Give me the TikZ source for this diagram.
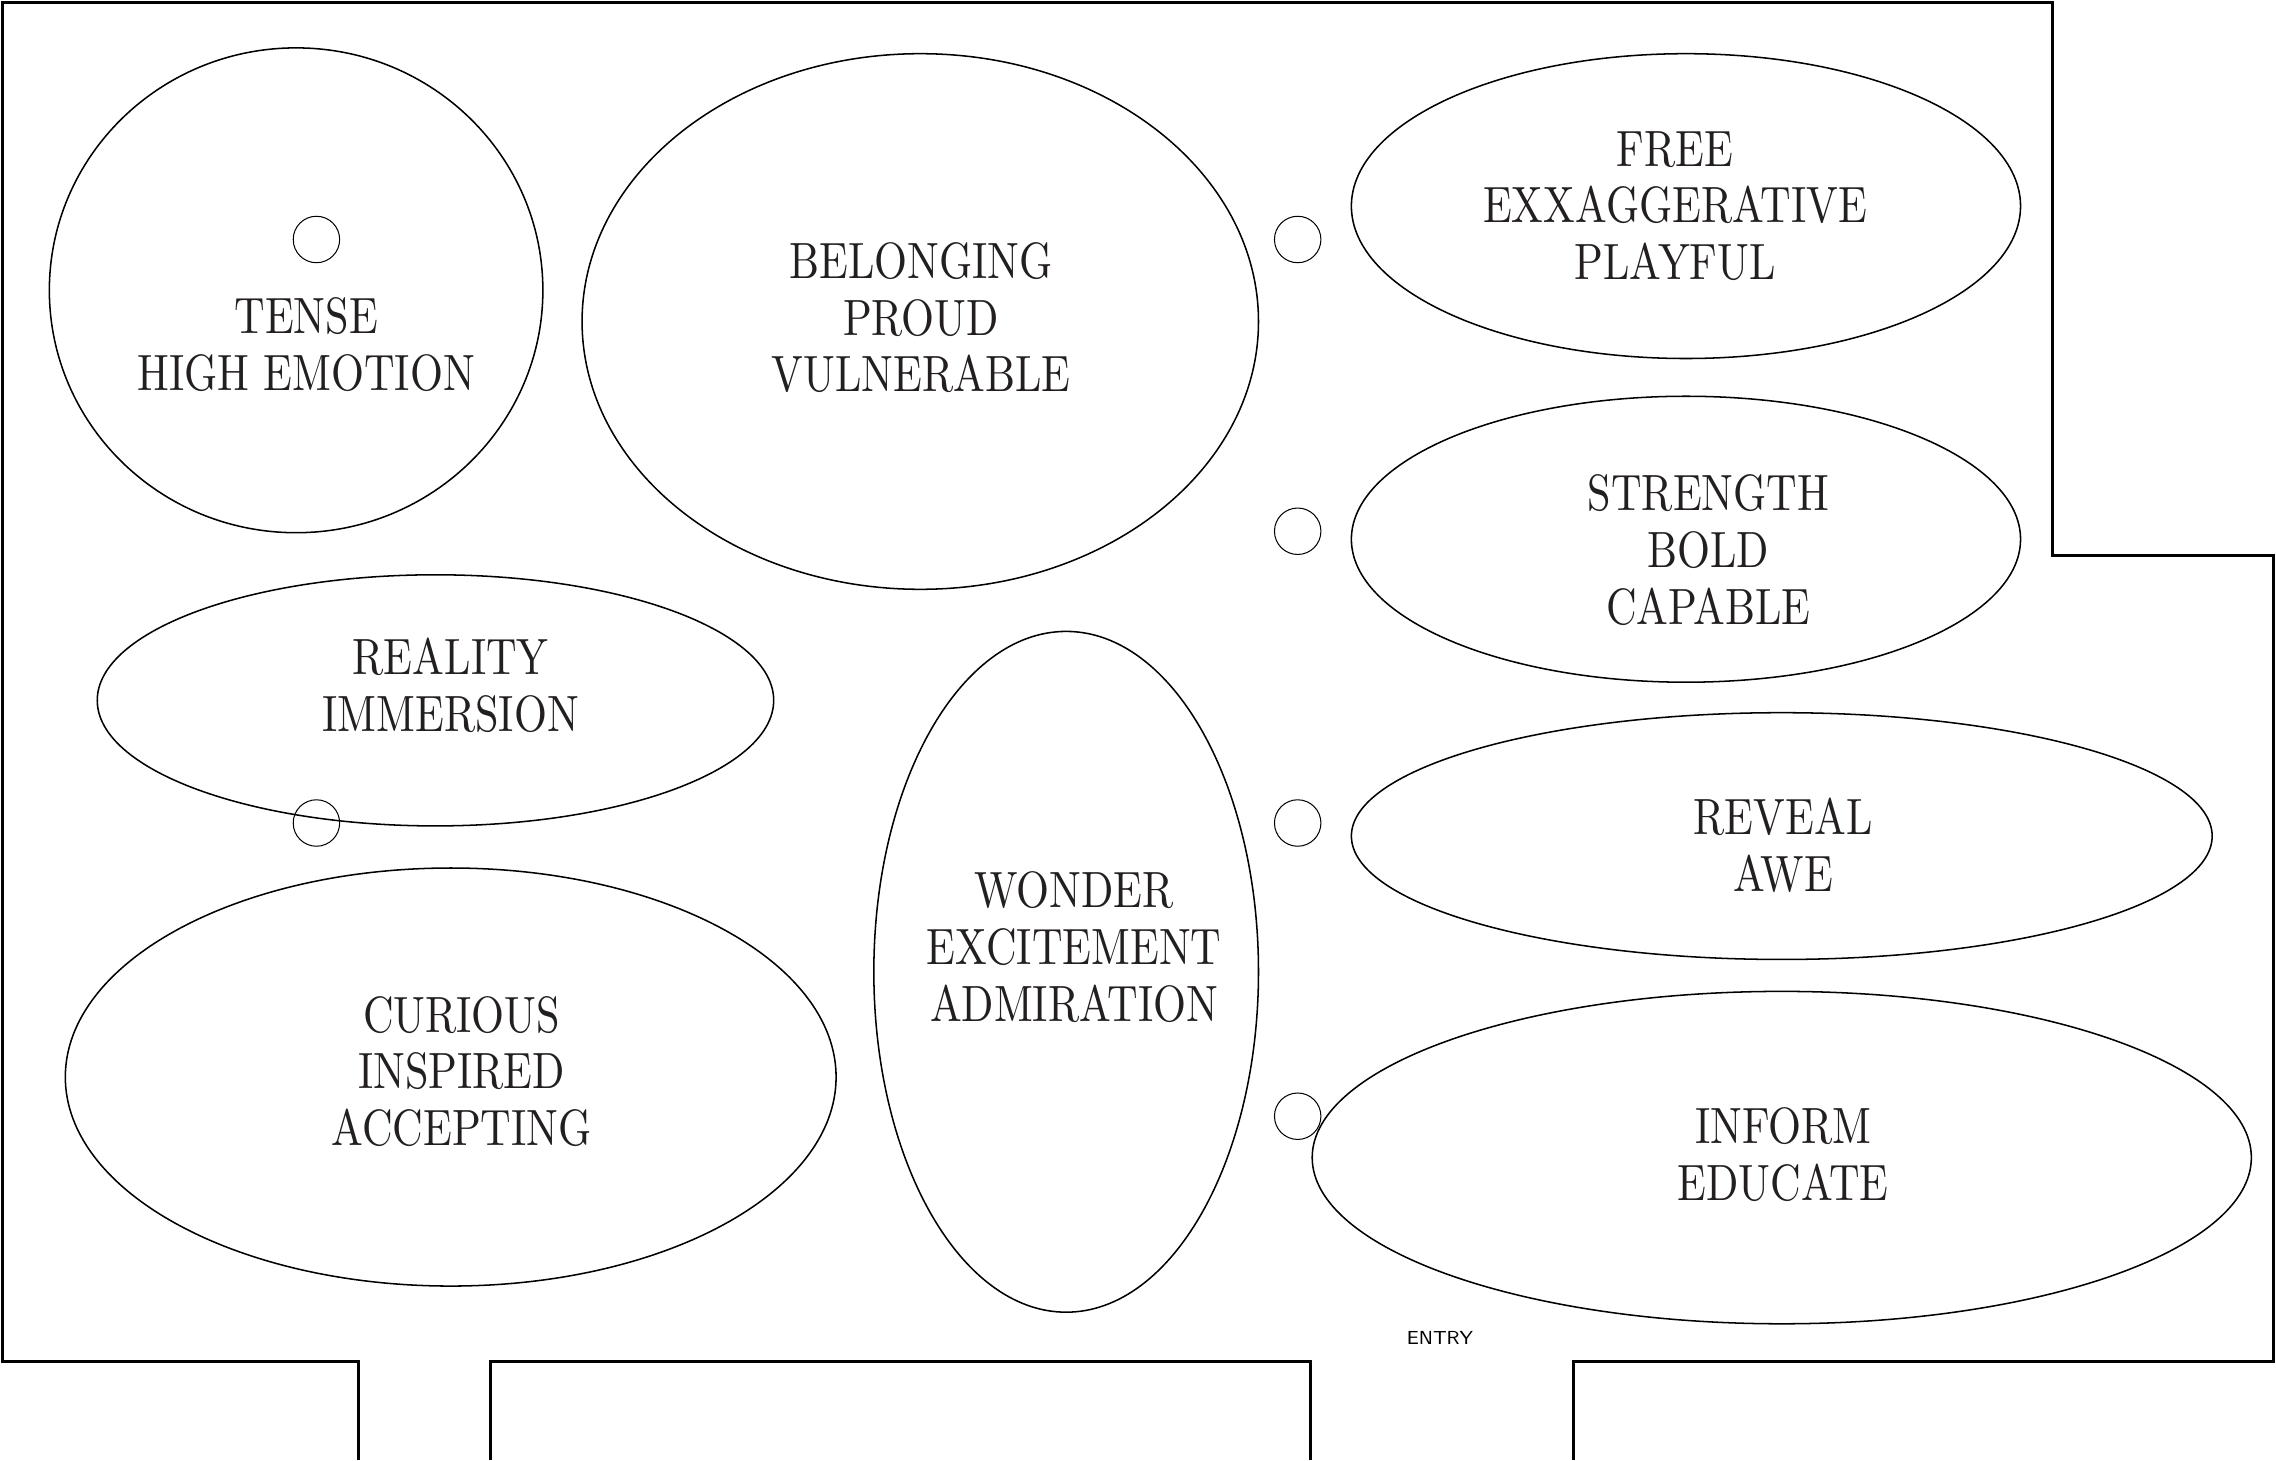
\documentclass[tikz,border=0pt]{standalone}
\usepackage{fontspec}
\usetikzlibrary{shapes.geometric}
\newfontfamily\zonefont[FakeStretch = 0.83]{lmroman10-regular.otf}
\definecolor{ink}{HTML}{231F20}

\begin{document}
\begin{tikzpicture}[
    wall/.style = {line width = 1.2pt},
    zone/.style = {shape = ellipse, draw, line width = 0.6pt, inner sep = 0pt},
    spot/.style = {shape = circle, draw, line width = 0.4pt, inner sep = 0pt, minimum size = 0.64cm},
    word/.style = {align = center, inner sep = 0pt, text = ink,
        font = \zonefont\fontsize{20}{22.2}\selectfont}]
    \useasboundingbox (0,0) rectangle (31.36,20.12);
    % walls
    \draw[wall] (4.94,0) -- (4.94,1.36) -- (0.04,1.36) -- (0.04,20.08) -- (28.28,20.08)
        -- (28.28,12.46) -- (31.32,12.46) -- (31.32,1.36) -- (21.68,1.36) -- (21.68,0);
    \draw[wall] (6.76,0) -- (6.76,1.36) -- (18.06,1.36) -- (18.06,0);
    % zones
    \node[zone, minimum width = 6.80cm, minimum height = 6.68cm] (tense) at (4.08,16.12) {};
    \node[zone, minimum width = 9.32cm, minimum height = 7.38cm] (belong) at (12.68,15.69) {};
    \node[zone, minimum width = 9.22cm, minimum height = 4.20cm] (free) at (23.23,17.28) {};
    \node[zone, minimum width = 9.22cm, minimum height = 3.94cm] (strength) at (23.23,12.69) {};
    \node[zone, minimum width = 9.32cm, minimum height = 3.46cm] (reality) at (6.00,10.47) {};
    \node[zone, minimum width = 10.62cm, minimum height = 5.76cm] (curious) at (6.21,5.28) {};
    \node[zone, minimum width = 5.30cm, minimum height = 9.38cm] (wonder) at (14.69,6.73) {};
    \node[zone, minimum width = 11.86cm, minimum height = 3.40cm] (reveal) at (24.55,8.60) {};
    \node[zone, minimum width = 12.94cm, minimum height = 4.58cm] (inform) at (24.55,4.17) {};
    % labels
    \node[word] (tense text) at (4.22,15.37) {TENSE\\HIGH EMOTION};
    \node[word] (belong text) at (12.69,15.74) {BELONGING\\PROUD\\VULNERABLE};
    \node[word] (free text) at (23.08,17.28) {FREE\\EXXAGGERATIVE\\PLAYFUL};
    \node[word] (strength text) at (23.54,12.54) {STRENGTH\\BOLD\\CAPABLE};
    \node[word] (reality text) at (6.21,10.68) {REALITY\\IMMERSION};
    \node[word] (curious text) at (6.36,5.36) {CURIOUS\\INSPIRED\\ACCEPTING};
    \node[word] (wonder text) at (14.80,7.07) {WONDER\\EXCITEMENT\\ADMIRATION};
    \node[word] (reveal text) at (24.57,8.47) {REVEAL\\AWE};
    \node[word] (inform text) at (24.57,4.21) {INFORM\\EDUCATE};
    % spots
    \node[spot] (spot a) at (4.36,16.82) {};
    \node[spot] (spot b) at (17.88,16.82) {};
    \node[spot] (spot c) at (17.88,12.80) {};
    \node[spot] (spot d) at (4.36,8.78) {};
    \node[spot] (spot e) at (17.88,8.78) {};
    \node[spot] (spot f) at (17.88,4.74) {};
    \node[font = \sffamily\fontsize{7.4}{8}\selectfont, inner sep = 0pt] (entry) at (19.84,1.68) {ENTRY};
\end{tikzpicture}
\end{document}
